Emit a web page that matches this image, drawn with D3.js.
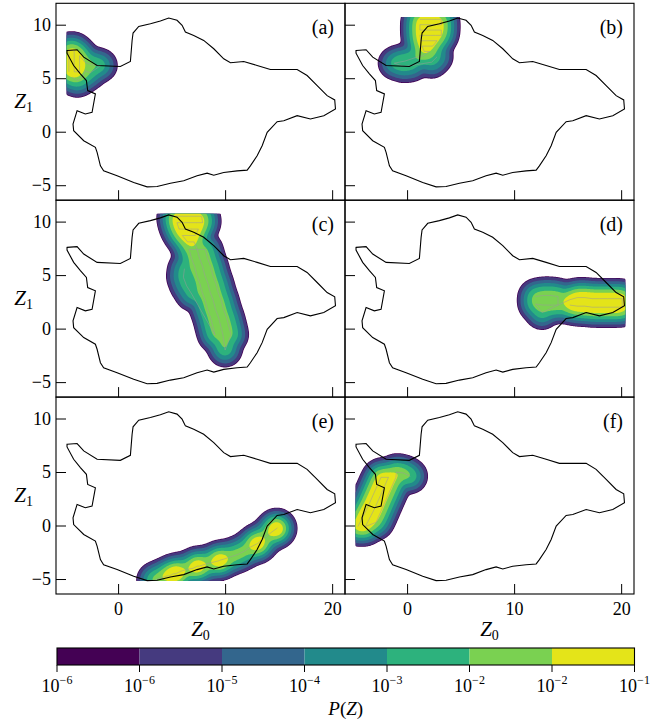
<!DOCTYPE html>
<html>
<head>
<meta charset="utf-8">
<script src="https://cdn.jsdelivr.net/npm/d3@7"></script>
<style>
  body { margin: 0; background: #fff; }
  text { font-family: "Liberation Serif", "DejaVu Serif", serif; fill: #000; }
</style>
</head>
<body>
<svg id="chart" width="653" height="723"></svg>
<script>
// ---- data ----
const panelLabels = ["(a)", "(b)", "(c)", "(d)", "(e)", "(f)"];
const xTicks = [0, 10, 20];
const yTicks = [-5, 0, 5, 10];
const cbarExponents = ["−6", "−6", "−5", "−4", "−3", "−2", "−2", "−1"];
const bandColors = ["#440154", "#453a7f", "#33668d", "#228a8b", "#2db27d", "#7ad151", "#e4e419"];
// contour levels, log10 relative to the panel maximum
const relLevels = [-3.4, -3.2, -2.45, -1.8, -1.25, -0.78, -0.4];

// domain outline (Z0, Z1)
const outline = [[-4.77,7.59],[-3.83,7.66],[-3.21,6.97],[-1.96,6.19],[0.21,6.09],[1.15,6.56],[1.31,8.53],
  [1.40,9.22],[1.93,9.84],[3.02,10.09],[3.95,10.35],[4.73,10.63],[5.51,10.41],[5.98,9.94],[6.29,9.31],
  [7.07,9.0],[8.0,8.53],[8.94,7.75],[9.87,6.81],[10.5,6.44],[11.74,6.56],[12.99,6.19],[14.23,5.81],
  [15.48,5.81],[16.73,5.81],[17.66,5.25],[18.6,4.31],[19.53,3.37],[20.24,2.97],[20.31,2.13],[19.22,1.5],
  [17.97,1.19],[16.73,1.5],[15.48,1.03],[14.86,0.94],[13.93,-0.06],[13.46,-1.31],[12.99,-2.25],
  [12.36,-3.19],[12.06,-3.59],[11.12,-3.66],[9.87,-3.81],[8.94,-4.06],[8.32,-3.87],[7.38,-4.12],
  [6.13,-4.59],[4.89,-4.81],[3.64,-5.12],[2.71,-5.15],[1.46,-4.74],[-0.09,-4.12],[-1.35,-3.66],
  [-1.65,-3.19],[-1.96,-1.93],[-2.12,-1.46],[-3.21,-0.84],[-4.15,0.09],[-4.21,0.72],[-3.83,1.97],
  [-3.06,1.66],[-2.43,1.81],[-2.12,3.53],[-2.84,3.84],[-2.96,4.78],[-3.52,5.41],[-4.15,6.19],[-4.77,7.34]];

// visited states per panel: [Z0, Z1, visits]
const statesA = [[-4.6,5.6,3],[-4.6,6.1,3],[-4.6,6.6,3],[-4.6,7.1,3],[-4.6,7.6,2],
  [-4.1,7.6,2],[-4.1,7.1,3],[-4.1,6.6,3],[-4.1,6.1,3],[-4.1,5.6,3],
  [-3.6,5.6,1.5],[-3.6,6.1,2],[-3.6,6.6,2],[-3.6,7.1,2],
  [-3.1,6.5,1],[-2.6,6.3,1],[-2.1,6.2,1],[-1.6,6.2,0.8],
  [-2.6,5.5,0.7],[-3.1,5.7,1],[-3.3,5.1,0.8],[-3.8,4.8,1],[-4.3,5.1,1]];
const statesB = [[1.2,10.5,3],[1.7,10.5,3],[2.2,10.5,3],[2.7,10.5,3],[3.2,10.5,2],
  [3.2,10.0,2],[2.7,10.0,3],[2.2,10.0,3],[1.7,10.0,3],[1.2,10.0,3],
  [1.2,9.5,3],[1.7,9.5,3],[2.2,9.5,3],[2.7,9.5,3],[3.2,9.5,2],
  [3.2,9.0,1.5],[2.7,9.0,2.5],[2.2,9.0,3],[1.7,9.0,3],[1.2,9.0,3],
  [1.3,8.5,3],[1.8,8.5,3],[2.3,8.5,2.5],[2.8,8.5,1.5],
  [2.4,8.0,1.5],[1.9,8.0,2.5],[1.4,8.0,2.5],[1.6,7.5,2],[2.1,7.5,1.5],[1.5,7.1,1.5],
  [1.0,7.0,1],[0.4,6.8,1],[-0.2,6.6,1],[-0.7,6.5,1],[-1.2,6.4,0.8],[-0.3,6.1,0.7],[0.5,6.2,0.7],
  [2.3,6.5,0.8],[2.8,7.0,0.8]];
const statesC = [[5.4,10.5,3],[6.0,10.5,3],[6.6,10.5,3],[7.2,10.5,3],[7.8,10.5,2],
  [7.9,9.9,2],[7.3,9.9,3],[6.7,9.9,3],[6.1,9.9,3],[5.5,9.9,3],
  [5.7,9.3,3],[6.3,9.3,3],[6.9,9.3,3],[7.5,9.3,2.5],
  [7.2,8.7,2.5],[6.6,8.7,3],[6.0,8.7,2.5],[6.5,8.1,2],[7.1,8.1,2],
  [7.4,7.4,1.35],[7.6,6.6,1.35],[7.9,5.8,1.35],[8.1,5.0,1.35],[8.4,4.2,1.35],[8.6,3.4,1.35],
  [8.9,2.6,1.35],[9.1,1.8,1.35],[9.4,1.0,1.35],[9.6,0.2,1.35],[9.8,-0.6,1.35],[9.9,-1.4,1.35],[10.0,-2.0,1],
  [10.55,-0.6,1.35],[10.35,0.2,1.35],[10.15,1.0,1.35],[9.85,1.8,1.35],[9.65,2.6,1.35],[9.35,3.4,1.35],
  [9.15,4.2,1.35],[8.85,5.0,1.35],[8.65,5.8,1.35],[8.35,6.6,1.35],[8.15,7.4,1.35],
  [6.65,7.4,1.35],[6.85,6.6,1.35],[7.15,5.8,1.35],[7.35,5.0,1.35],[7.65,4.2,1.35],[7.85,3.4,1.35],
  [8.15,2.6,1.35],[8.35,1.8,1.35],[8.65,1.0,1.35],[8.85,0.2,1.35],[9.05,-0.6,1.35],
  [6.9,3.2,0.8],[6.4,4.0,0.8],[6.1,4.8,0.8],[6.2,5.6,0.8]];
const statesD = [[12.0,3.0,0.6],[12.7,3.1,0.7],[13.4,3.1,0.7],[14.1,3.0,0.8],
  [14.1,2.2,0.8],[13.4,2.2,0.7],[12.7,2.2,0.7],[12.0,2.3,0.6],[12.6,1.5,0.4],
  [15.2,2.7,1.4],[15.9,2.9,2],[16.6,2.9,2],[17.3,2.8,2],[18.0,2.8,2],[18.7,2.8,2],[19.4,2.8,2],[20.1,2.8,2],
  [20.1,2.0,2],[19.4,2.0,2],[18.7,2.0,2],[18.0,2.0,2],[17.3,2.0,2],[16.6,2.1,2],[15.9,2.1,2],[15.2,2.2,1.4]];
const statesE = [[3.4,-5.1,1],[4.0,-4.9,1],[4.6,-4.7,1],[4.8,-4.7,2],[5.2,-4.5,1],[5.4,-4.5,4.5],[5.8,-4.3,1],
  [6.4,-4.1,1],[7.0,-4.0,1],[7.4,-3.8,3.5],[7.6,-3.8,1],[8.2,-3.6,1],[8.8,-3.45,1],[9.4,-3.3,1],
  [9.5,-3.25,3.5],[10.0,-3.1,1],[10.6,-2.9,1],[11.2,-2.7,1],[11.8,-2.4,1],[12.4,-2.0,1],[13.0,-1.7,1],
  [13.0,-1.7,4],[13.5,-1.3,1],[14.0,-0.9,1],[14.5,-0.5,1],[14.8,-0.3,4.5],[14.9,-0.2,1]];
const statesF = [[-4.6,-0.1,2],[-4.29,0.5,2],[-3.98,1.1,2],[-3.68,1.7,2],[-3.37,2.4,2],[-3.06,3.1,2],
  [-2.75,3.8,2],[-2.44,4.5,2],
  [-1.74,4.5,2],[-2.05,3.8,2],[-2.36,3.1,2],[-2.67,2.4,2],[-2.98,1.7,2],[-3.28,1.1,2],[-3.59,0.5,2],
  [-3.9,-0.1,2],
  [-2.89,0.3,0.8],[-2.58,1.0,0.8],[-2.28,1.7,0.8],[-1.97,2.4,0.8],[-1.66,3.1,0.8],[-1.35,3.8,0.8],
  [-1.04,4.5,0.8],[-1.0,5.0,1],[-0.3,4.9,0.8],[0.3,4.6,0.6]];
const panelStates = [statesA, statesB, statesC, statesD, statesE, statesF];

// ---- layout ----
const W = 289, H = 196.9;
const colX = [56, 345];
const rowY = [3.3, 200.2, 397.1];
const bandwidth = 0.5;    // kernel width in data units
const step = 0.08;        // grid step in data units

const svg = d3.select("#chart");

const x = d3.scaleLinear().domain([-5.8, 21.2]).range([0, W]);
const y = d3.scaleLinear().domain([-6.4, 12]).range([H, 0]);

// density grid limited to the outline's bounding box
const [gx0, gx1] = d3.extent(outline, d => d[0]);
const [gy0, gy1] = d3.extent(outline, d => d[1]);
const nx = Math.ceil((gx1 - gx0) / step) + 1;
const ny = Math.ceil((gy1 - gy0) / step) + 1;

function densityGrid(points) {
    const vals = new Float64Array(nx * ny);
    const reach = 5 * bandwidth;
    const s2 = 2 * bandwidth * bandwidth;
    points.forEach(([px, py, w]) => {
        const i0 = Math.max(0, Math.floor((px - reach - gx0) / step));
        const i1 = Math.min(nx - 1, Math.ceil((px + reach - gx0) / step));
        const j0 = Math.max(0, Math.floor((py - reach - gy0) / step));
        const j1 = Math.min(ny - 1, Math.ceil((py + reach - gy0) / step));
        for (let j = j0; j <= j1; j++) {
            const dy = gy0 + j * step - py;
            for (let i = i0; i <= i1; i++) {
                const dx = gx0 + i * step - px;
                vals[j * nx + i] += w * Math.exp(-(dx * dx + dy * dy) / s2);
            }
        }
    });
    return vals;
}

const gridToPixel = d3.geoTransform({
    point(cx, cy) {
        this.stream.point(x(gx0 + (cx - 0.5) * step), y(gy0 + (cy - 0.5) * step));
    }
});
const contourPath = d3.geoPath(gridToPixel);
const line = d3.line().x(d => x(d[0])).y(d => y(d[1]));

const defs = svg.append("defs");
defs.append("clipPath").attr("id", "panel-clip")
    .append("rect").attr("width", W).attr("height", H);

panelStates.forEach((states, k) => {
    const col = k % 2, row = Math.floor(k / 2);
    const g = svg.append("g").attr("transform", `translate(${colX[col]},${rowY[row]})`);
    const inner = g.append("g").attr("clip-path", "url(#panel-clip)");

    const vals = densityGrid(states);
    const vmax = d3.max(vals);
    const thresholds = relLevels.map(t => vmax * Math.pow(10, t));
    const bands = d3.contours().size([nx, ny]).thresholds(thresholds)(Array.from(vals));

    inner.selectAll("path.band")
        .data(bands)
        .join("path")
        .attr("class", "band")
        .attr("d", contourPath)
        .attr("fill", (d, i) => bandColors[i])
        .attr("stroke", "none");

    // trajectory through the visited states
    inner.append("path")
        .attr("d", line(states))
        .attr("fill", "none")
        .attr("stroke", "#9a9a9a")
        .attr("stroke-opacity", 0.65)
        .attr("stroke-width", 0.8);

    inner.append("path")
        .attr("d", line(outline) + "Z")
        .attr("fill", "none")
        .attr("stroke", "#000")
        .attr("stroke-width", 1.1);

    // axes, ticks pointing inward
    const yAxis = d3.axisLeft(y).tickValues(yTicks).tickSize(-10).tickPadding(5);
    if (col === 1) yAxis.tickFormat("");
    const ya = g.append("g").call(yAxis);
    const xAxis = d3.axisBottom(x).tickValues(xTicks).tickSize(-10).tickPadding(8);
    if (row < 2) xAxis.tickFormat("");
    const xa = g.append("g").attr("transform", `translate(0,${H})`).call(xAxis);
    [ya, xa].forEach(a => {
        a.select(".domain").remove();
        a.selectAll("line").attr("stroke", "#000").attr("stroke-width", 1);
        a.selectAll("text").attr("font-size", 18).style("font-family", '"Liberation Serif", serif');
    });

    g.append("rect")
        .attr("width", W).attr("height", H)
        .attr("fill", "none").attr("stroke", "#000").attr("stroke-width", 1.1);

    g.append("text")
        .attr("x", W - 11).attr("y", 31)
        .attr("text-anchor", "end")
        .attr("font-size", 20)
        .text(panelLabels[k]);

    if (col === 0) {
        const t = g.append("text")
            .attr("x", -23).attr("y", H / 2 + 6)
            .attr("text-anchor", "end")
            .attr("font-size", 21);
        t.append("tspan").attr("font-style", "italic").text("Z");
        t.append("tspan").attr("font-size", 14).attr("dy", 4).text("1");
    }
    if (row === 2) {
        const t = g.append("text")
            .attr("x", W / 2).attr("y", H + 42)
            .attr("text-anchor", "middle")
            .attr("font-size", 21);
        t.append("tspan").attr("font-style", "italic").text("Z");
        t.append("tspan").attr("font-size", 14).attr("dy", 4).text("0");
    }
});

// ---- colour bar ----
const cbX0 = 57, cbX1 = 634.5, cbY = 648, cbH = 17;
const cb = d3.scaleLinear().domain([0, bandColors.length]).range([cbX0, cbX1]);
const cbar = svg.append("g");
cbar.selectAll("rect.seg")
    .data(bandColors)
    .join("rect")
    .attr("class", "seg")
    .attr("x", (d, i) => cb(i))
    .attr("width", (d, i) => cb(i + 1) - cb(i))
    .attr("y", cbY).attr("height", cbH)
    .attr("fill", d => d);
cbar.append("rect")
    .attr("x", cbX0).attr("y", cbY)
    .attr("width", cbX1 - cbX0).attr("height", cbH)
    .attr("fill", "none").attr("stroke", "#000").attr("stroke-width", 1.1);

const cbTicks = cbar.selectAll("g.tick")
    .data(cbarExponents)
    .join("g")
    .attr("class", "tick")
    .attr("transform", (d, i) => `translate(${cb(i)},${cbY + cbH})`);
cbTicks.append("line").attr("y2", 7).attr("stroke", "#000");
const cbText = cbTicks.append("text")
    .attr("y", 27)
    .attr("text-anchor", "middle")
    .attr("font-size", 18);
cbText.append("tspan").text("10");
cbText.append("tspan").attr("font-size", 12).attr("dy", -8).text(d => d);

const pz = svg.append("text")
    .attr("x", (cbX0 + cbX1) / 2).attr("y", 715)
    .attr("text-anchor", "middle")
    .attr("font-size", 19);
pz.append("tspan").attr("font-style", "italic").text("P");
pz.append("tspan").text("(");
pz.append("tspan").attr("font-style", "italic").text("Z");
pz.append("tspan").text(")");
</script>
</body>
</html>
